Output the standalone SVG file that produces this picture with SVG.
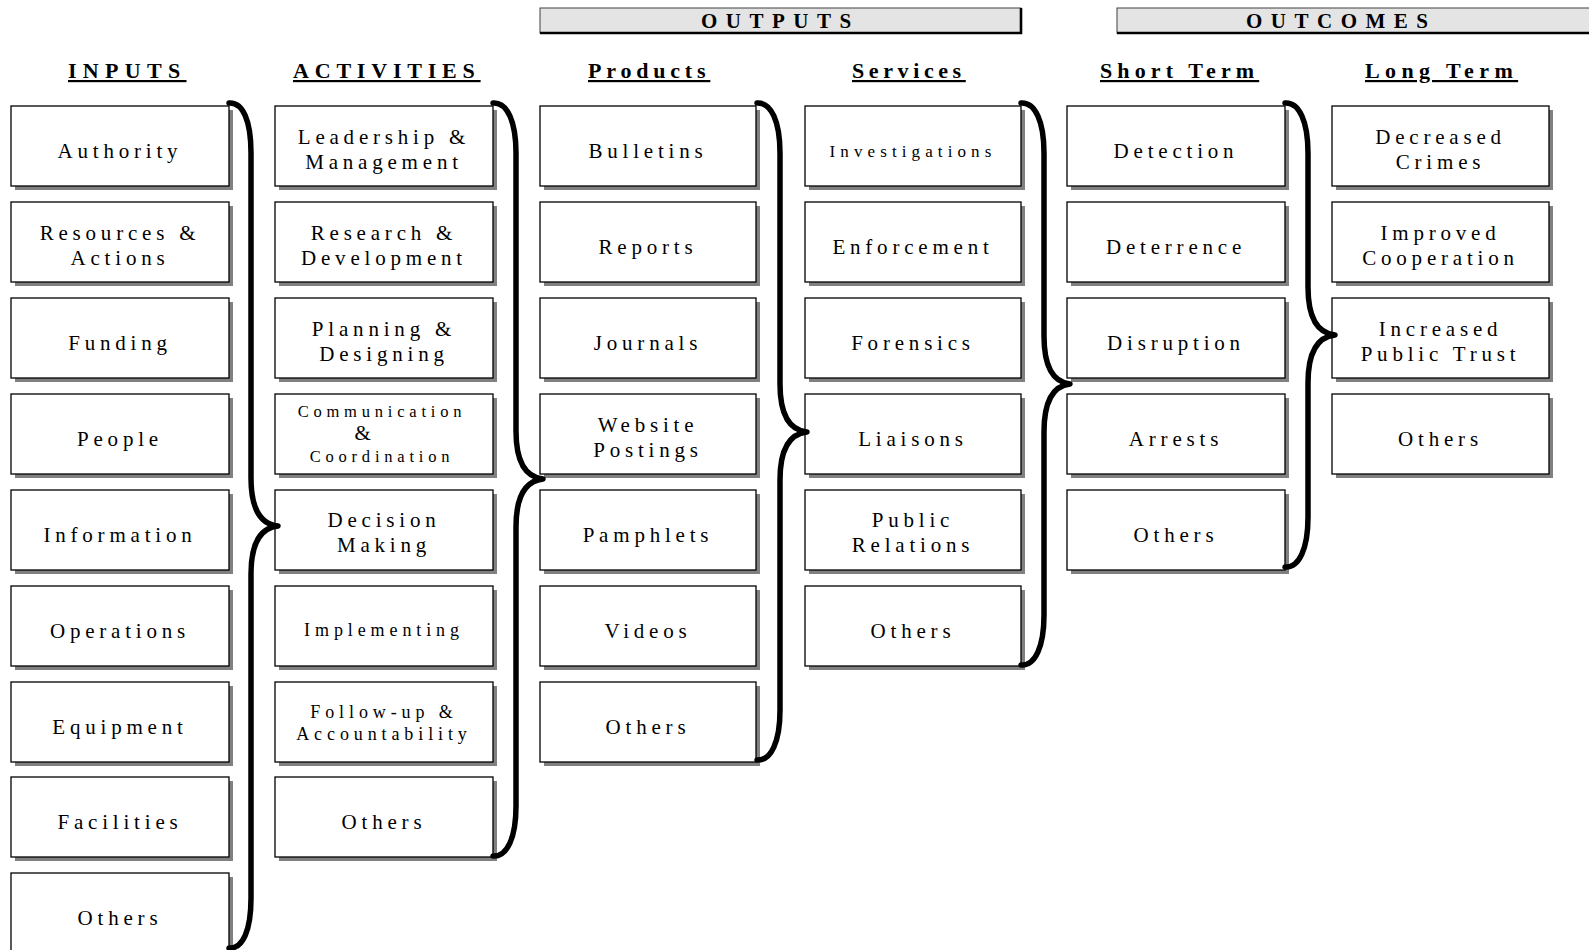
<svg xmlns="http://www.w3.org/2000/svg" width="1589" height="950" viewBox="0 0 1589 950">
<style>
.sh{fill:#808080}
.bx{fill:#fff;stroke:#000;stroke-width:1.3}
.t{font-family:"Liberation Serif","Times New Roman",serif;font-size:21px;letter-spacing:4.8px;text-anchor:middle;fill:#000}
.s18{font-size:18px;letter-spacing:4.9px}
.s16{font-size:16.5px}
.s17{font-size:17px;letter-spacing:5.1px}
.hd{font-family:"Liberation Serif","Times New Roman",serif;font-size:22px;font-weight:bold;text-decoration:underline;fill:#000}
.bt{font-family:"Liberation Serif","Times New Roman",serif;font-size:21px;font-weight:bold;letter-spacing:8.5px;fill:#000}
.bar{fill:#e4e4e4;stroke:#404040;stroke-width:1}
.bare{fill:none;stroke:#000;stroke-width:2.6}
.br{fill:none;stroke:#000;stroke-width:5.5;stroke-linecap:round;stroke-linejoin:round}
</style>

<g id="bar-outputs">
<rect class="bar" x="540" y="8" width="481" height="25"/>
<polyline class="bare" points="1021,8 1021,33 540,33"/>
<text class="bt" x="701" y="28">OUTPUTS</text>
</g>
<g id="bar-outcomes">
<rect class="bar" x="1117" y="8" width="480" height="25"/>
<polyline class="bare" points="1117,33 1597,33"/>
<text class="bt" x="1246" y="28">OUTCOMES</text>
</g>

<g id="headers">
<text class="hd" x="68" y="78" letter-spacing="6.3">INPUTS</text>
<text class="hd" x="293" y="78" letter-spacing="5.8">ACTIVITIES</text>
<text class="hd" x="588" y="78" letter-spacing="4.8">Products</text>
<text class="hd" x="852" y="78" letter-spacing="4.6">Services</text>
<text class="hd" x="1100" y="78" letter-spacing="5.1">Short Term</text>
<text class="hd" x="1365" y="78" letter-spacing="5.4">Long Term</text>
</g>

<!-- INPUTS -->
<g id="in-authority"><rect class="sh" x="15" y="110" width="218" height="80"/><rect class="bx" x="11" y="106" width="218" height="80"/><text class="t" x="120" y="158">Authority</text></g>
<g id="in-resources"><rect class="sh" x="15" y="206" width="218" height="80"/><rect class="bx" x="11" y="202" width="218" height="80"/><text class="t" x="120" y="240">Resources &amp;</text><text class="t" x="120" y="265">Actions</text></g>
<g id="in-funding"><rect class="sh" x="15" y="302" width="218" height="80"/><rect class="bx" x="11" y="298" width="218" height="80"/><text class="t" x="120" y="350">Funding</text></g>
<g id="in-people"><rect class="sh" x="15" y="398" width="218" height="80"/><rect class="bx" x="11" y="394" width="218" height="80"/><text class="t" x="120" y="446">People</text></g>
<g id="in-information"><rect class="sh" x="15" y="494" width="218" height="80"/><rect class="bx" x="11" y="490" width="218" height="80"/><text class="t" x="120" y="542">Information</text></g>
<g id="in-operations"><rect class="sh" x="15" y="590" width="218" height="80"/><rect class="bx" x="11" y="586" width="218" height="80"/><text class="t" x="120" y="638">Operations</text></g>
<g id="in-equipment"><rect class="sh" x="15" y="686" width="218" height="80"/><rect class="bx" x="11" y="682" width="218" height="80"/><text class="t" x="120" y="734">Equipment</text></g>
<g id="in-facilities"><rect class="sh" x="15" y="781" width="218" height="80"/><rect class="bx" x="11" y="777" width="218" height="80"/><text class="t" x="120" y="829">Facilities</text></g>
<g id="in-others"><rect class="sh" x="15" y="877" width="218" height="80"/><rect class="bx" x="11" y="873" width="218" height="80"/><text class="t" x="120" y="925">Others</text></g>

<!-- ACTIVITIES -->
<g id="act-leadership"><rect class="sh" x="279" y="110" width="218" height="80"/><rect class="bx" x="275" y="106" width="218" height="80"/><text class="t" x="384" y="144">Leadership &amp;</text><text class="t" x="384" y="169">Management</text></g>
<g id="act-research"><rect class="sh" x="279" y="206" width="218" height="80"/><rect class="bx" x="275" y="202" width="218" height="80"/><text class="t" x="384" y="240">Research &amp;</text><text class="t" x="384" y="265">Development</text></g>
<g id="act-planning"><rect class="sh" x="279" y="302" width="218" height="80"/><rect class="bx" x="275" y="298" width="218" height="80"/><text class="t" x="384" y="336">Planning &amp;</text><text class="t" x="384" y="361">Designing</text></g>
<g id="act-communication"><rect class="sh" x="279" y="398" width="218" height="80"/><rect class="bx" x="275" y="394" width="218" height="80"/><text class="t s16" x="382" y="417" letter-spacing="5.5">Communication</text><text class="t" x="365" y="440" font-size="20" letter-spacing="0">&amp;</text><text class="t s16" x="382" y="462" letter-spacing="4.7">Coordination</text></g>
<g id="act-decision"><rect class="sh" x="279" y="494" width="218" height="80"/><rect class="bx" x="275" y="490" width="218" height="80"/><text class="t" x="384" y="527">Decision</text><text class="t" x="384" y="552">Making</text></g>
<g id="act-implementing"><rect class="sh" x="279" y="590" width="218" height="80"/><rect class="bx" x="275" y="586" width="218" height="80"/><text class="t s18" x="384" y="636" letter-spacing="5.6">Implementing</text></g>
<g id="act-followup"><rect class="sh" x="279" y="686" width="218" height="80"/><rect class="bx" x="275" y="682" width="218" height="80"/><text class="t s18" x="384" y="718">Follow-up &amp;</text><text class="t s18" x="384" y="740">Accountability</text></g>
<g id="act-others"><rect class="sh" x="279" y="781" width="218" height="80"/><rect class="bx" x="275" y="777" width="218" height="80"/><text class="t" x="384" y="829">Others</text></g>

<!-- PRODUCTS -->
<g id="prod-bulletins"><rect class="sh" x="544" y="110" width="216" height="80"/><rect class="bx" x="540" y="106" width="216" height="80"/><text class="t" x="648" y="158">Bulletins</text></g>
<g id="prod-reports"><rect class="sh" x="544" y="206" width="216" height="80"/><rect class="bx" x="540" y="202" width="216" height="80"/><text class="t" x="648" y="254">Reports</text></g>
<g id="prod-journals"><rect class="sh" x="544" y="302" width="216" height="80"/><rect class="bx" x="540" y="298" width="216" height="80"/><text class="t" x="648" y="350">Journals</text></g>
<g id="prod-website"><rect class="sh" x="544" y="398" width="216" height="80"/><rect class="bx" x="540" y="394" width="216" height="80"/><text class="t" x="648" y="432">Website</text><text class="t" x="648" y="457">Postings</text></g>
<g id="prod-pamphlets"><rect class="sh" x="544" y="494" width="216" height="80"/><rect class="bx" x="540" y="490" width="216" height="80"/><text class="t" x="648" y="542">Pamphlets</text></g>
<g id="prod-videos"><rect class="sh" x="544" y="590" width="216" height="80"/><rect class="bx" x="540" y="586" width="216" height="80"/><text class="t" x="648" y="638">Videos</text></g>
<g id="prod-others"><rect class="sh" x="544" y="686" width="216" height="80"/><rect class="bx" x="540" y="682" width="216" height="80"/><text class="t" x="648" y="734">Others</text></g>

<!-- SERVICES -->
<g id="svc-investigations"><rect class="sh" x="809" y="110" width="216" height="80"/><rect class="bx" x="805" y="106" width="216" height="80"/><text class="t s17" x="913" y="157">Investigations</text></g>
<g id="svc-enforcement"><rect class="sh" x="809" y="206" width="216" height="80"/><rect class="bx" x="805" y="202" width="216" height="80"/><text class="t" x="913" y="254" letter-spacing="5.6">Enforcement</text></g>
<g id="svc-forensics"><rect class="sh" x="809" y="302" width="216" height="80"/><rect class="bx" x="805" y="298" width="216" height="80"/><text class="t" x="913" y="350">Forensics</text></g>
<g id="svc-liaisons"><rect class="sh" x="809" y="398" width="216" height="80"/><rect class="bx" x="805" y="394" width="216" height="80"/><text class="t" x="913" y="446">Liaisons</text></g>
<g id="svc-public"><rect class="sh" x="809" y="494" width="216" height="80"/><rect class="bx" x="805" y="490" width="216" height="80"/><text class="t" x="913" y="527">Public</text><text class="t" x="913" y="552">Relations</text></g>
<g id="svc-others"><rect class="sh" x="809" y="590" width="216" height="80"/><rect class="bx" x="805" y="586" width="216" height="80"/><text class="t" x="913" y="638">Others</text></g>

<!-- SHORT TERM -->
<g id="st-detection"><rect class="sh" x="1071" y="110" width="218" height="80"/><rect class="bx" x="1067" y="106" width="218" height="80"/><text class="t" x="1176" y="158">Detection</text></g>
<g id="st-deterrence"><rect class="sh" x="1071" y="206" width="218" height="80"/><rect class="bx" x="1067" y="202" width="218" height="80"/><text class="t" x="1176" y="254">Deterrence</text></g>
<g id="st-disruption"><rect class="sh" x="1071" y="302" width="218" height="80"/><rect class="bx" x="1067" y="298" width="218" height="80"/><text class="t" x="1176" y="350">Disruption</text></g>
<g id="st-arrests"><rect class="sh" x="1071" y="398" width="218" height="80"/><rect class="bx" x="1067" y="394" width="218" height="80"/><text class="t" x="1176" y="446">Arrests</text></g>
<g id="st-others"><rect class="sh" x="1071" y="494" width="218" height="80"/><rect class="bx" x="1067" y="490" width="218" height="80"/><text class="t" x="1176" y="542">Others</text></g>

<!-- LONG TERM -->
<g id="lt-decreased"><rect class="sh" x="1336" y="110" width="217" height="80"/><rect class="bx" x="1332" y="106" width="217" height="80"/><text class="t" x="1440.5" y="144">Decreased</text><text class="t" x="1440.5" y="169">Crimes</text></g>
<g id="lt-improved"><rect class="sh" x="1336" y="206" width="217" height="80"/><rect class="bx" x="1332" y="202" width="217" height="80"/><text class="t" x="1440.5" y="240">Improved</text><text class="t" x="1440.5" y="265">Cooperation</text></g>
<g id="lt-increased"><rect class="sh" x="1336" y="302" width="217" height="80"/><rect class="bx" x="1332" y="298" width="217" height="80"/><text class="t" x="1440.5" y="336">Increased</text><text class="t" x="1440.5" y="361">Public Trust</text></g>
<g id="lt-others"><rect class="sh" x="1336" y="398" width="217" height="80"/><rect class="bx" x="1332" y="394" width="217" height="80"/><text class="t" x="1440.5" y="446">Others</text></g>

<g id="connectors">
<path class="br" d="M229,103 C243,102 251,121 251,153 L251,478 C251,506 259,524 278,526 C259,528 251,546 251,574 L251,898 C251,930 243,949 229,948"/>
<path class="br" d="M493,103 C507,102 516,121 516,153 L516,431 C516,459 524,477 543,479 C524,481 516,499 516,527 L516,806 C516,838 507,857 493,856"/>
<path class="br" d="M757,103 C771,102 780,121 780,153 L780,384 C780,412 788,430 807,432 C788,434 780,452 780,480 L780,710 C780,742 771,761 757,760"/>
<path class="br" d="M1021,103 C1035,102 1044,121 1044,153 L1044,336 C1044,364 1052,382 1070,384 C1052,386 1044,404 1044,432 L1044,615 C1044,647 1035,666 1021,665"/>
<path class="br" d="M1285,103 C1299,102 1308,121 1308,153 L1308,287 C1308,315 1316,333 1335,335 C1316,337 1308,355 1308,383 L1308,517 C1308,549 1299,568 1285,567"/>
</g>
</svg>
